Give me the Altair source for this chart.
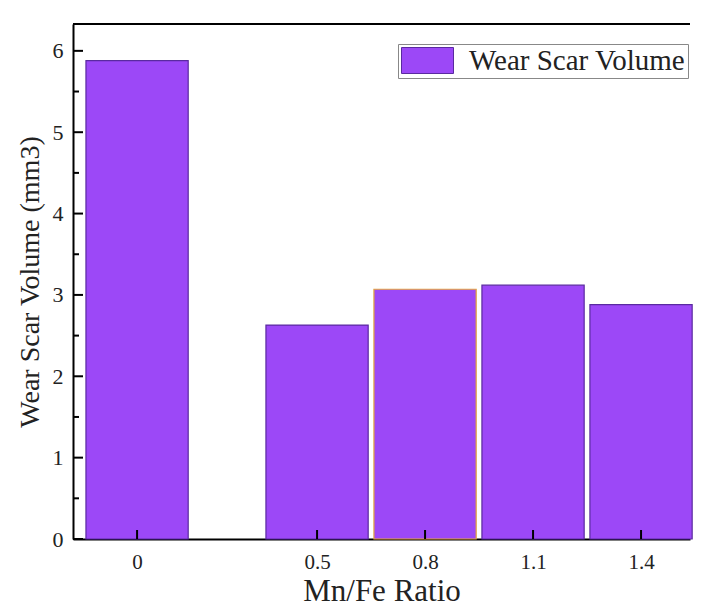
import altair as alt
import pandas as pd

# ---- data ----
ratios = [0, 0.5, 0.8, 1.1, 1.4]
volumes = [5.88, 2.63, 3.07, 3.12, 2.88]
series_name = "Wear Scar Volume"
y_major = [0, 1, 2, 3, 4, 5, 6]
y_minor = [0.5, 1.5, 2.5, 3.5, 4.5, 5.5]
x_ticks = [0, 0.5, 0.8, 1.1, 1.4]

bar_half = 0.142
W, H = 617, 515
FONT = "Liberation Serif"
FILL = "#9c48f7"
EDGE = "#5a2aa0"

df = pd.DataFrame({"ratio": ratios, "volume": volumes, "series": [series_name] * len(ratios)})
xscale = alt.Scale(domain=[-0.178, 1.536], nice=False, zero=False)
yscale = alt.Scale(domain=[0, 6.33], nice=False)

xaxis = alt.Axis(
    values=x_ticks, labelExpr="format(datum.value, '~g')", tickSize=0,
    labelPadding=12, labelFont=FONT, labelFontSize=21, labelColor="#222",
    domainColor="black", domainWidth=2, grid=False, labelFlush=False,
    title="Mn/Fe Ratio", titleFont=FONT, titleFontSize=31, titleFontWeight="normal",
    titleColor="#222", titlePadding=4)
yaxis = alt.Axis(
    values=y_major, tickSize=0, labelPadding=10, labelFont=FONT, labelFontSize=22,
    labelColor="#222", domainColor="black", domainWidth=2, grid=False,
    title="Wear Scar Volume (mm3)", titleFont=FONT, titleFontSize=28,
    titleFontWeight="normal", titleColor="#222", titlePadding=8)

bars = alt.Chart(df).transform_calculate(
    lo=f"datum.ratio - {bar_half}", hi=f"datum.ratio + {bar_half}"
).mark_bar(strokeWidth=1.2).encode(
    x=alt.X("lo:Q", scale=xscale, axis=xaxis),
    x2="hi:Q",
    y=alt.Y("volume:Q", scale=yscale, axis=yaxis),
    y2=alt.datum(0),
    fill=alt.Fill("series:N", scale=alt.Scale(range=[FILL]), legend=alt.Legend(
        title=None, orient="none", legendX=325, legendY=20,
        symbolType="M-1,-1L3,-1L3,1L-1,1Z", symbolSize=676,
        symbolStrokeColor=EDGE, symbolStrokeWidth=1, symbolFillColor=FILL,
        labelFont=FONT, labelFontSize=29, labelColor="#222", labelOffset=40,
        labelLimit=0, strokeColor="#888", fillColor="white", padding=2)),
    stroke=alt.condition("datum.ratio == 0.8", alt.value("#e3a33c"), alt.value(EDGE)),
)

top_rule = alt.Chart(pd.DataFrame({"a": [0]})).mark_rule(color="black", strokeWidth=2).encode(
    x=alt.value(0), x2=alt.value(W), y=alt.value(0))

ymaj = alt.Chart(pd.DataFrame({"v": y_major})).mark_rule(color="black", strokeWidth=2).encode(
    y=alt.Y("v:Q", scale=yscale, axis=yaxis), x=alt.value(0), x2=alt.value(10))
ymin = alt.Chart(pd.DataFrame({"v": y_minor})).mark_rule(color="black", strokeWidth=2).encode(
    y=alt.Y("v:Q", scale=yscale, axis=yaxis), x=alt.value(0), x2=alt.value(6))
xt = alt.Chart(pd.DataFrame({"v": x_ticks})).mark_rule(color="black", strokeWidth=2).encode(
    x=alt.X("v:Q", scale=xscale, axis=xaxis), y=alt.value(H), y2=alt.value(H - 9))

chart = alt.layer(bars, ymaj, ymin, xt, top_rule).properties(
    width=W, height=H, background="white",
    padding={"left": 8, "top": 15, "right": 0, "bottom": 0},
).configure_view(stroke=None)

chart.save("out.html", embed_options={"renderer": "svg", "actions": False})
